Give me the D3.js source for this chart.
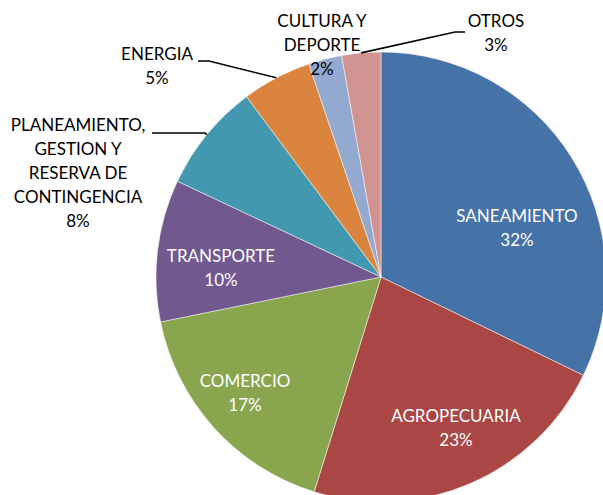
<!DOCTYPE html>
<html>
<head>
<meta charset="utf-8">
<script src="https://cdn.jsdelivr.net/npm/d3@7"></script>
<style>
  html, body { margin: 0; padding: 0; background: #fff; }
  svg text { font-family: Lato, "Open Sans", sans-serif; font-size: 17px; }
</style>
</head>
<body>
<svg id="pieVis" width="603" height="495"></svg>
<script>
// data, clockwise from 12 o'clock
const categories = ['SANEAMIENTO', 'AGROPECUARIA', 'COMERCIO', 'TRANSPORTE',
  'PLANEAMIENTO, GESTION Y RESERVA DE CONTINGENCIA', 'ENERGIA', 'CULTURA Y DEPORTE', 'OTROS'];
const shares = [32.2, 22.6, 17.0, 10.2, 7.8, 5.0, 2.4, 2.8];
const labelLines = [
  ['SANEAMIENTO'], ['AGROPECUARIA'], ['COMERCIO'], ['TRANSPORTE'],
  ['PLANEAMIENTO,', 'GESTION Y', 'RESERVA DE', 'CONTINGENCIA'],
  ['ENERGIA'], ['CULTURA Y', 'DEPORTE'], ['OTROS']
];
const colors = ['#4572A7', '#AA4643', '#89A54E', '#71588F', '#4198AF', '#DB843D', '#93A9CF', '#D19392'];

// layout: label anchor (relative to pie centre), first baseline; leader elbow if outside
const cx = 381, cy = 277, radius = 225;
const lineH = 24;
const labelLayout = [
  { x: 136, y: -55, fill: '#fff' },
  { x: 75, y: 145, fill: '#fff' },
  { x: -136, y: 110, fill: '#fff' },
  { x: -160, y: -15, fill: '#fff' },
  { x: -303, y: -146, fill: '#000', elbow: [-176, -144], start: [-229, -144] },
  { x: -224, y: -217, fill: '#000', elbow: [-172, -216], start: [-183, -216] },
  { x: -59, y: -250, fill: '#000' },
  { x: 115, y: -250, fill: '#000', elbow: [74, -245], start: [84, -245] }
];

const pieData = categories.map((c, i) => ({ name: c, value: shares[i], idx: i }));

const svg = d3.select('svg#pieVis');
const g = svg.append('g').attr('transform', `translate(${cx},${cy})`);

const pie = d3.pie().sort(null).value(d => d.value);
const arcs = pie(pieData);
const arc = d3.arc().innerRadius(0).outerRadius(radius);
const edgeArc = d3.arc().innerRadius(radius).outerRadius(radius);

g.selectAll('path.slice')
  .data(arcs)
  .enter()
  .append('path')
  .attr('class', 'slice')
  .attr('d', arc)
  .attr('fill', d => colors[d.data.idx])
  .attr('stroke', '#fff')
  .attr('stroke-width', 0.5);

// leader lines
g.selectAll('polyline.leader')
  .data(arcs.filter(d => labelLayout[d.data.idx].elbow))
  .enter()
  .append('polyline')
  .attr('class', 'leader')
  .attr('fill', 'none')
  .attr('stroke', '#000')
  .attr('stroke-width', 1.6)
  .attr('points', d => {
    const L = labelLayout[d.data.idx];
    const p = edgeArc.centroid(d);
    return [L.start, L.elbow, p].map(q => q.join(',')).join(' ');
  });

const fmt = v => Math.round(v) + '%';

const labels = g.selectAll('text.lbl')
  .data(arcs)
  .enter()
  .append('text')
  .attr('class', 'lbl')
  .attr('text-anchor', 'middle')
  .attr('fill', d => labelLayout[d.data.idx].fill)
  .attr('x', d => labelLayout[d.data.idx].x)
  .attr('y', d => labelLayout[d.data.idx].y);

labels.each(function(d) {
  const t = d3.select(this);
  const L = labelLayout[d.data.idx];
  const lines = labelLines[d.data.idx].concat([fmt(d.data.value)]);
  lines.forEach((s, i) => {
    t.append('tspan')
      .attr('x', L.x)
      .attr('dy', i === 0 ? 0 : lineH)
      .text(s);
  });
});
</script>
</body>
</html>
